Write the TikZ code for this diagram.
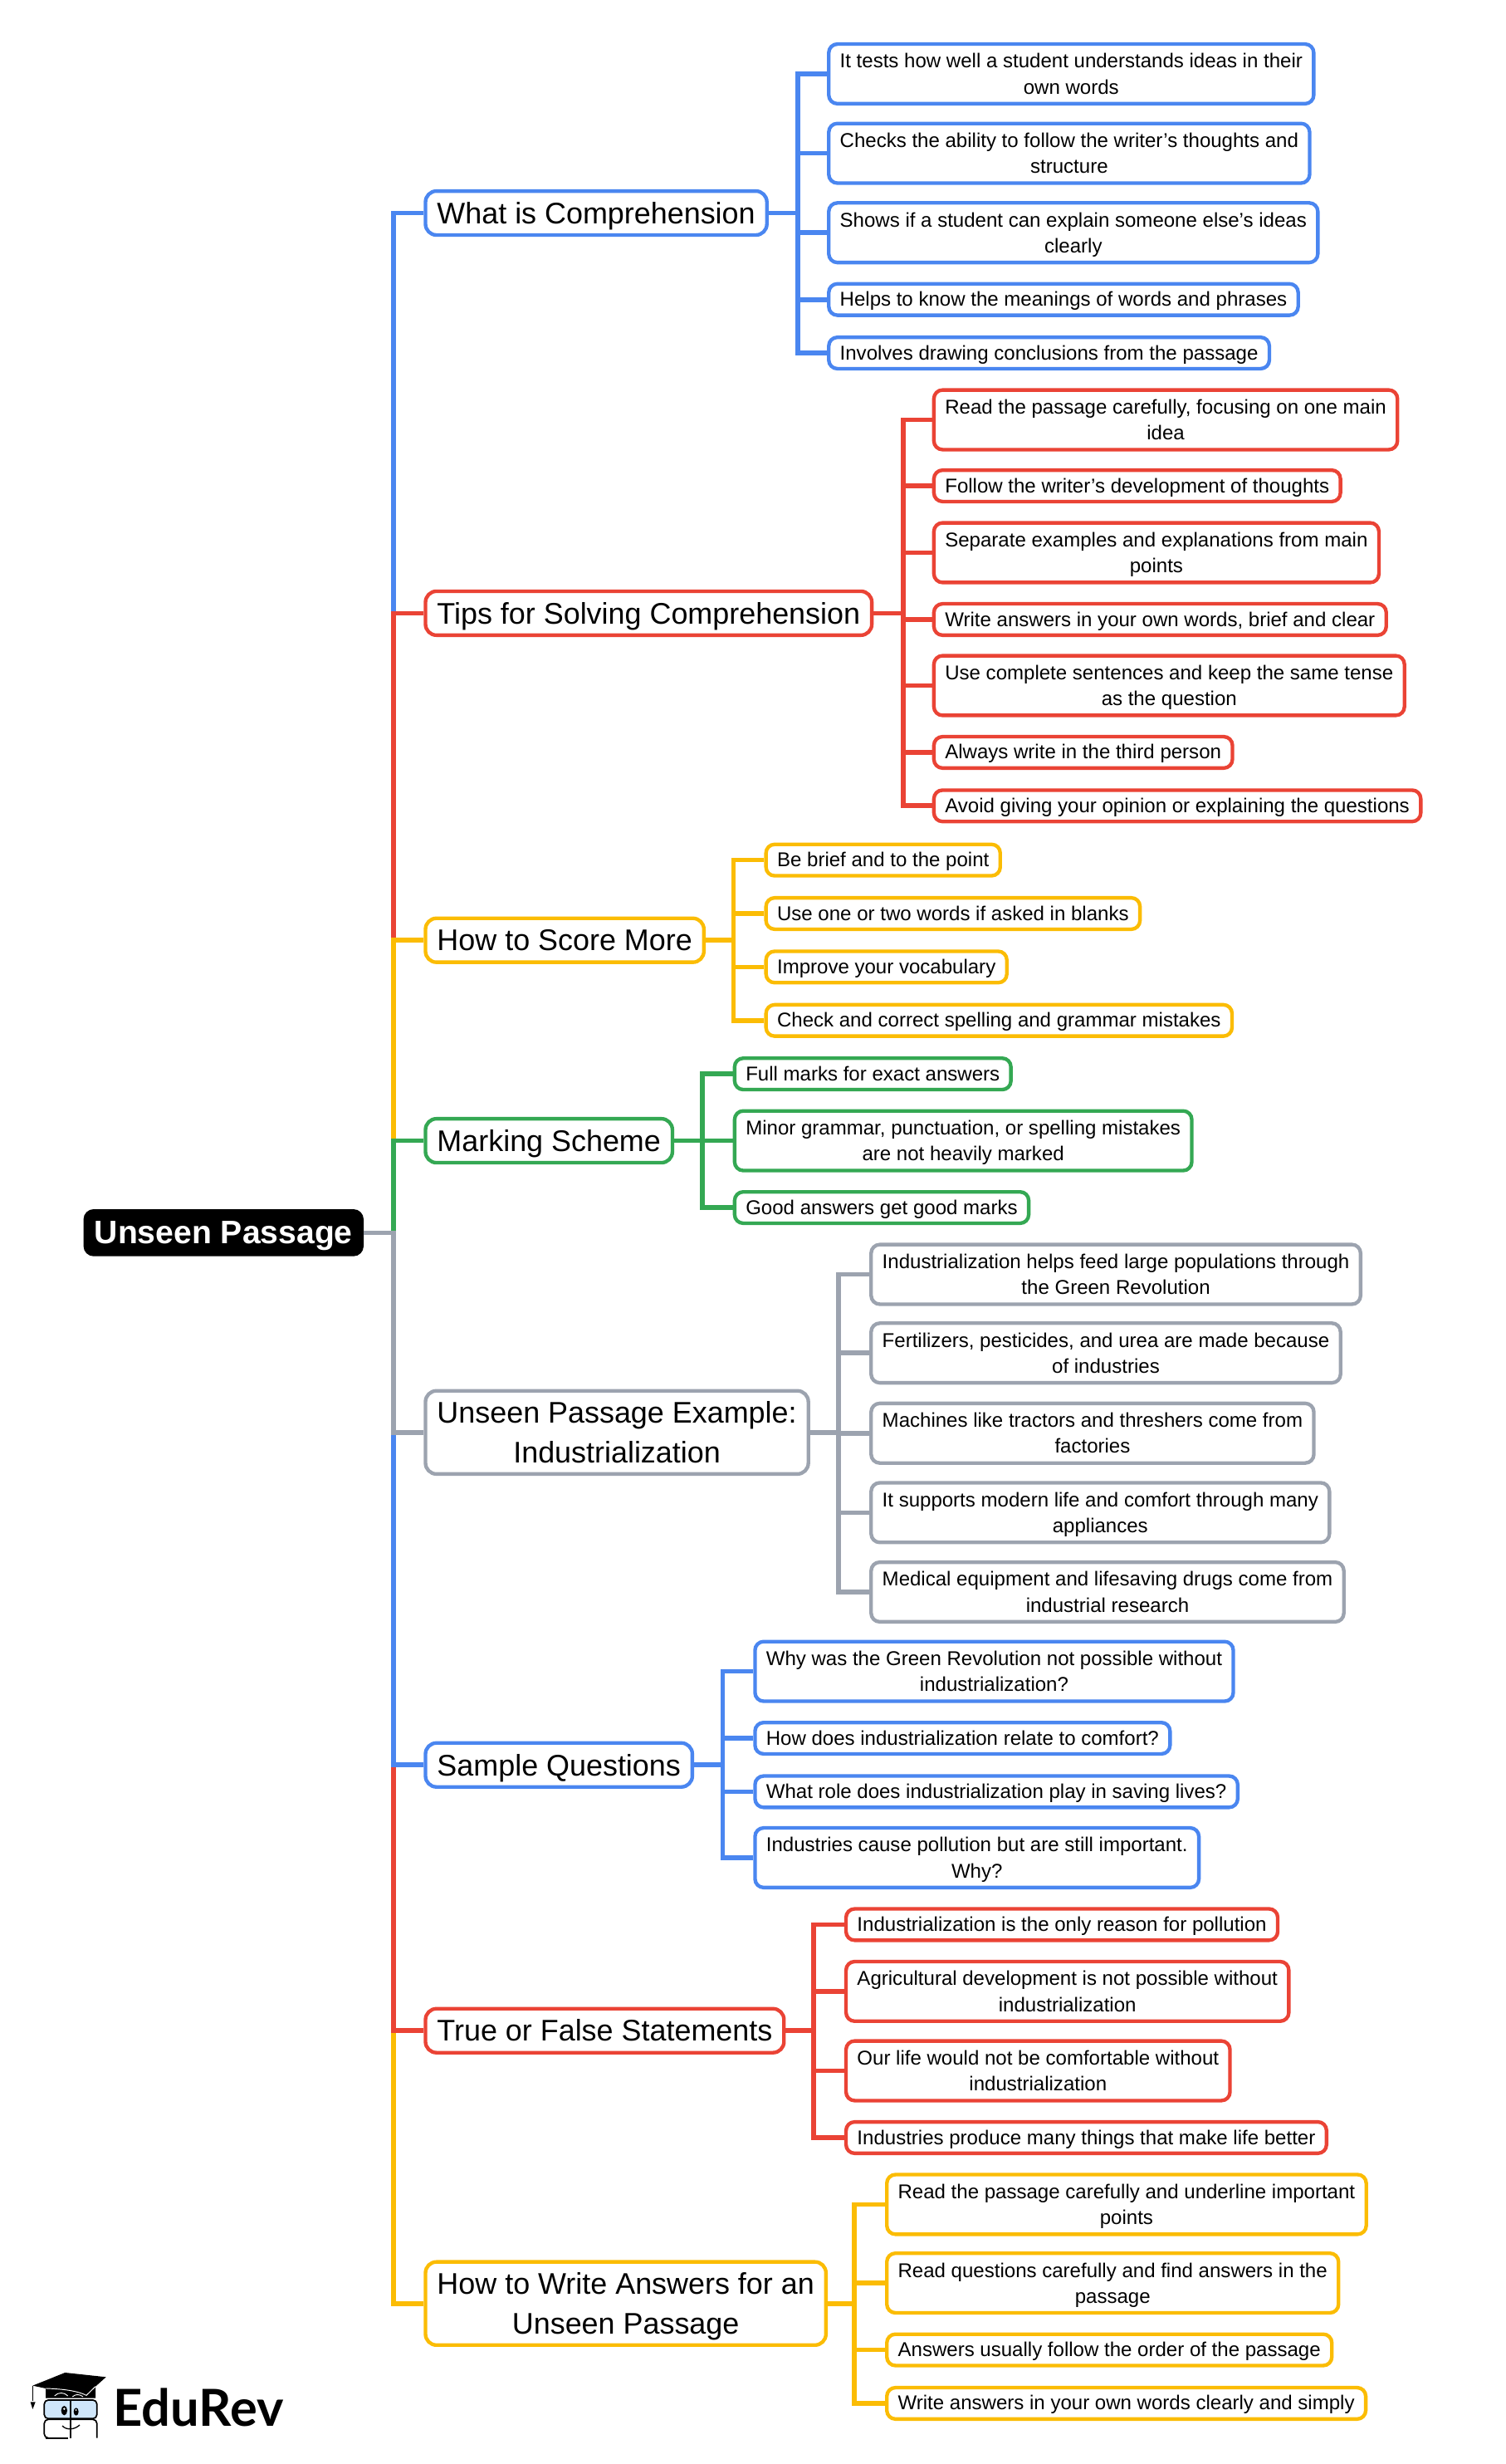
\documentclass[tikz,border=0pt]{standalone}
\usepackage{fontspec}
\setmainfont{Liberation Sans}
\newfontfamily\logofont{Lato}
\usetikzlibrary{positioning,calc}
\definecolor{mapblue}{HTML}{4A86F0}
\definecolor{mapred}{HTML}{EA4335}
\definecolor{mapyellow}{HTML}{FBBC04}
\definecolor{mapgreen}{HTML}{34A853}
\definecolor{mapgray}{HTML}{9CA3AF}
\definecolor{mapglass}{HTML}{CFE6FA}
\tikzset{
  rootbox/.style={rectangle,rounded corners=6.5pt,fill=black,text=white,anchor=west,inner xsep=7pt,inner ysep=0pt,minimum height=30pt,text height=18pt,text depth=4.4pt,font=\fontsize{20.7}{25}\selectfont\bfseries},
  branchbox/.style={rectangle,rounded corners=7pt,draw,fill=white,line width=2.3pt,anchor=west,align=center,inner xsep=7.4pt,inner ysep=0pt,minimum height=28pt,text height=17.5pt,text depth=4pt,font=\fontsize{19}{25}\selectfont},
  leafbox/.style={rectangle,rounded corners=5.5pt,draw,fill=white,line width=2.3pt,anchor=west,align=center,inner xsep=7.1pt,inner ysep=0pt,minimum height=20pt,text height=11.2pt,text depth=2.7pt,font=\fontsize{12.72}{16.5}\selectfont},
  twobranch/.style={branchbox,minimum height=53pt,text height=42.5pt},
  twoleaf/.style={leafbox,minimum height=38pt,text height=28.2pt},
  link/.style={line width=3pt}
}
\begin{document}
\begin{tikzpicture}[x=1pt,y=-1.0017pt]
  \useasboundingbox (0,0) rectangle (959.3,1567.1);
  % Define the root and the main branches
  \path (53,784) node[rootbox] (Root) {Unseen Passage};
  \path (270,135.5) node[branchbox,draw=mapblue] (B1) {What is Comprehension};
  \path (270,390) node[branchbox,draw=mapred] (B2) {Tips for Solving Comprehension};
  \path (270,598) node[branchbox,draw=mapyellow] (B3) {How to Score More};
  \path (270,725.5) node[branchbox,draw=mapgreen] (B4) {Marking Scheme};
  \path (270,911) node[twobranch,draw=mapgray] (B5) {Unseen Passage Example:\\Industrialization};
  \path (270,1122.5) node[branchbox,draw=mapblue] (B6) {Sample Questions};
  \path (270,1291.5) node[branchbox,draw=mapred] (B7) {True or False Statements};
  \path (270,1465) node[twobranch,draw=mapyellow] (B8) {How to Write Answers for an\\Unseen Passage};
  % Leaves of the first branch
  \path (527,47) node[twoleaf,draw=mapblue] (L11) {It tests how well a student understands ideas in their\\own words};
  \path (527,97.5) node[twoleaf,draw=mapblue] (L12) {Checks the ability to follow the writer's thoughts and\\structure};
  \path (527,148) node[twoleaf,draw=mapblue] (L13) {Shows if a student can explain someone else's ideas\\clearly};
  \path (527,190.5) node[leafbox,draw=mapblue] (L14) {Helps to know the meanings of words and phrases};
  \path (527,224.5) node[leafbox,draw=mapblue] (L15) {Involves drawing conclusions from the passage};
  % Leaves of the second branch
  \path (594,267) node[twoleaf,draw=mapred] (L21) {Read the passage carefully, focusing on one main\\idea};
  \path (594,309) node[leafbox,draw=mapred] (L22) {Follow the writer's development of thoughts};
  \path (594,351.5) node[twoleaf,draw=mapred] (L23) {Separate examples and explanations from main\\points};
  \path (594,394) node[leafbox,draw=mapred] (L24) {Write answers in your own words, brief and clear};
  \path (594,436) node[twoleaf,draw=mapred] (L25) {Use complete sentences and keep the same tense\\as the question};
  \path (594,478.5) node[leafbox,draw=mapred] (L26) {Always write in the third person};
  \path (594,512.5) node[leafbox,draw=mapred] (L27) {Avoid giving your opinion or explaining the questions};
  % Leaves of the third branch
  \path (487,547) node[leafbox,draw=mapyellow] (L31) {Be brief and to the point};
  \path (487,581) node[leafbox,draw=mapyellow] (L32) {Use one or two words if asked in blanks};
  \path (487,615) node[leafbox,draw=mapyellow] (L33) {Improve your vocabulary};
  \path (487,649) node[leafbox,draw=mapyellow] (L34) {Check and correct spelling and grammar mistakes};
  % Leaves of the fourth branch
  \path (467,683) node[leafbox,draw=mapgreen] (L41) {Full marks for exact answers};
  \path (467,725.5) node[twoleaf,draw=mapgreen] (L42) {Minor grammar, punctuation, or spelling mistakes\\are not heavily marked};
  \path (467,768) node[leafbox,draw=mapgreen] (L43) {Good answers get good marks};
  % Leaves of the fifth branch
  \path (554,810.5) node[twoleaf,draw=mapgray] (L51) {Industrialization helps feed large populations through\\the Green Revolution};
  \path (554,860.5) node[twoleaf,draw=mapgray] (L52) {Fertilizers, pesticides, and urea are made because\\of industries};
  \path (554,911.5) node[twoleaf,draw=mapgray] (L53) {Machines like tractors and threshers come from\\factories};
  \path (554,962) node[twoleaf,draw=mapgray] (L54) {It supports modern life and comfort through many\\appliances};
  \path (554,1012.5) node[twoleaf,draw=mapgray] (L55) {Medical equipment and lifesaving drugs come from\\industrial research};
  % Leaves of the sixth branch
  \path (480,1063) node[twoleaf,draw=mapblue] (L61) {Why was the Green Revolution not possible without\\industrialization?};
  \path (480,1105.5) node[leafbox,draw=mapblue] (L62) {How does industrialization relate to comfort?};
  \path (480,1139.5) node[leafbox,draw=mapblue] (L63) {What role does industrialization play in saving lives?};
  \path (480,1181.5) node[twoleaf,draw=mapblue] (L64) {Industries cause pollution but are still important.\\Why?};
  % Leaves of the seventh branch
  \path (538,1224) node[leafbox,draw=mapred] (L71) {Industrialization is the only reason for pollution};
  \path (538,1266.5) node[twoleaf,draw=mapred] (L72) {Agricultural development is not possible without\\industrialization};
  \path (538,1317) node[twoleaf,draw=mapred] (L73) {Our life would not be comfortable without\\industrialization};
  \path (538,1359.5) node[leafbox,draw=mapred] (L74) {Industries produce many things that make life better};
  % Leaves of the eighth branch
  \path (564,1402) node[twoleaf,draw=mapyellow] (L81) {Read the passage carefully and underline important\\points};
  \path (564,1452) node[twoleaf,draw=mapyellow] (L82) {Read questions carefully and find answers in the\\passage};
  \path (564,1494.5) node[leafbox,draw=mapyellow] (L83) {Answers usually follow the order of the passage};
  \path (564,1528.5) node[leafbox,draw=mapyellow] (L84) {Write answers in your own words clearly and simply};
  % Draw the links from the root, the outer ones first
  \draw[link,mapblue] (Root.east) -- ++(19,0) |- (B1.west);
  \draw[link,mapyellow] (Root.east) -- ++(19,0) |- (B8.west);
  \draw[link,mapred] (Root.east) -- ++(19,0) |- (B2.west);
  \draw[link,mapred] (Root.east) -- ++(19,0) |- (B7.west);
  \draw[link,mapyellow] (Root.east) -- ++(19,0) |- (B3.west);
  \draw[link,mapblue] (Root.east) -- ++(19,0) |- (B6.west);
  \draw[link,mapgreen] (Root.east) -- ++(19,0) |- (B4.west);
  \draw[link,mapgray] (Root.east) -- ++(19,0) |- (B5.west);
  % Draw the links from the branches to the leaves
  \draw[link,mapblue] (L11.west) -| (508.5,135.5) (L12.west) -| (508.5,135.5) (L13.west) -| (508.5,135.5) (L14.west) -| (508.5,135.5) (L15.west) -| (508.5,135.5) (B1.east) -- (508.5,135.5);
  \draw[link,mapred] (L21.west) -| (575.5,390) (L22.west) -| (575.5,390) (L23.west) -| (575.5,390) (L24.west) -| (575.5,390) (L25.west) -| (575.5,390) (L26.west) -| (575.5,390) (L27.west) -| (575.5,390) (B2.east) -- (575.5,390);
  \draw[link,mapyellow] (L31.west) -| (467.5,598) (L32.west) -| (467.5,598) (L33.west) -| (467.5,598) (L34.west) -| (467.5,598) (B3.east) -- (467.5,598);
  \draw[link,mapgreen] (L41.west) -| (447.5,725.5) (L42.west) -| (447.5,725.5) (L43.west) -| (447.5,725.5) (B4.east) -- (447.5,725.5);
  \draw[link,mapgray] (L51.west) -| (534.5,911) (L52.west) -| (534.5,911) (L53.west) -| (534.5,911) (L54.west) -| (534.5,911) (L55.west) -| (534.5,911) (B5.east) -- (534.5,911);
  \draw[link,mapblue] (L61.west) -| (460.5,1122.5) (L62.west) -| (460.5,1122.5) (L63.west) -| (460.5,1122.5) (L64.west) -| (460.5,1122.5) (B6.east) -- (460.5,1122.5);
  \draw[link,mapred] (L71.west) -| (518.5,1291.5) (L72.west) -| (518.5,1291.5) (L73.west) -| (518.5,1291.5) (L74.west) -| (518.5,1291.5) (B7.east) -- (518.5,1291.5);
  \draw[link,mapyellow] (L81.west) -| (544.5,1465) (L82.west) -| (544.5,1465) (L83.west) -| (544.5,1465) (L84.west) -| (544.5,1465) (B8.east) -- (544.5,1465);
  % The logo at the bottom left
  \begin{scope}[shift={(0,1481.5)},x=0.1764pt,y=-0.1764pt]
    \fill (118,203) -- (235,156) -- (383,172) -- (345,206) -- (345,248) -- (165,248) -- (165,213) -- cycle;
    \draw[white,line width=0.5pt] (165,213) .. controls (230,215) and (280,222) .. (312,238) -- (345,206);
    \draw[line width=0.6pt] (118,203) -- (118,258);
    \fill (110,262) -- (128,262) -- (118,288) -- cycle;
    \draw[white,line width=0.5pt] (197,240) .. controls (210,226) and (232,226) .. (245,240) (262,243) .. controls (272,233) and (288,233) .. (300,243);
    \draw[line width=0.9pt,fill=mapglass,rounded corners=2.5pt] (160,255) rectangle (350,322);
    \draw[line width=0.9pt,rounded corners=2.5pt] (165,392) -- (160,392) -- (160,325) -- (350,325) -- (350,392);
    \draw[line width=0.9pt] (255,255) -- (255,392) (165,392) -- (245,392);
    \fill (232,293) ellipse [x radius=11,y radius=17] (275,297) ellipse [x radius=9,y radius=14];
    \fill[white] (232,287) circle [radius=4] (275,291) circle [radius=3];
    \draw[line width=0.7pt] (225,348) .. controls (240,365) and (270,362) .. (288,345);
  \end{scope}
  \path (72,1531) node[anchor=west,inner sep=0pt,font=\logofont\fontsize{32.5}{36}\selectfont\bfseries] (Logo) {EduRev};
\end{tikzpicture}
\end{document}
